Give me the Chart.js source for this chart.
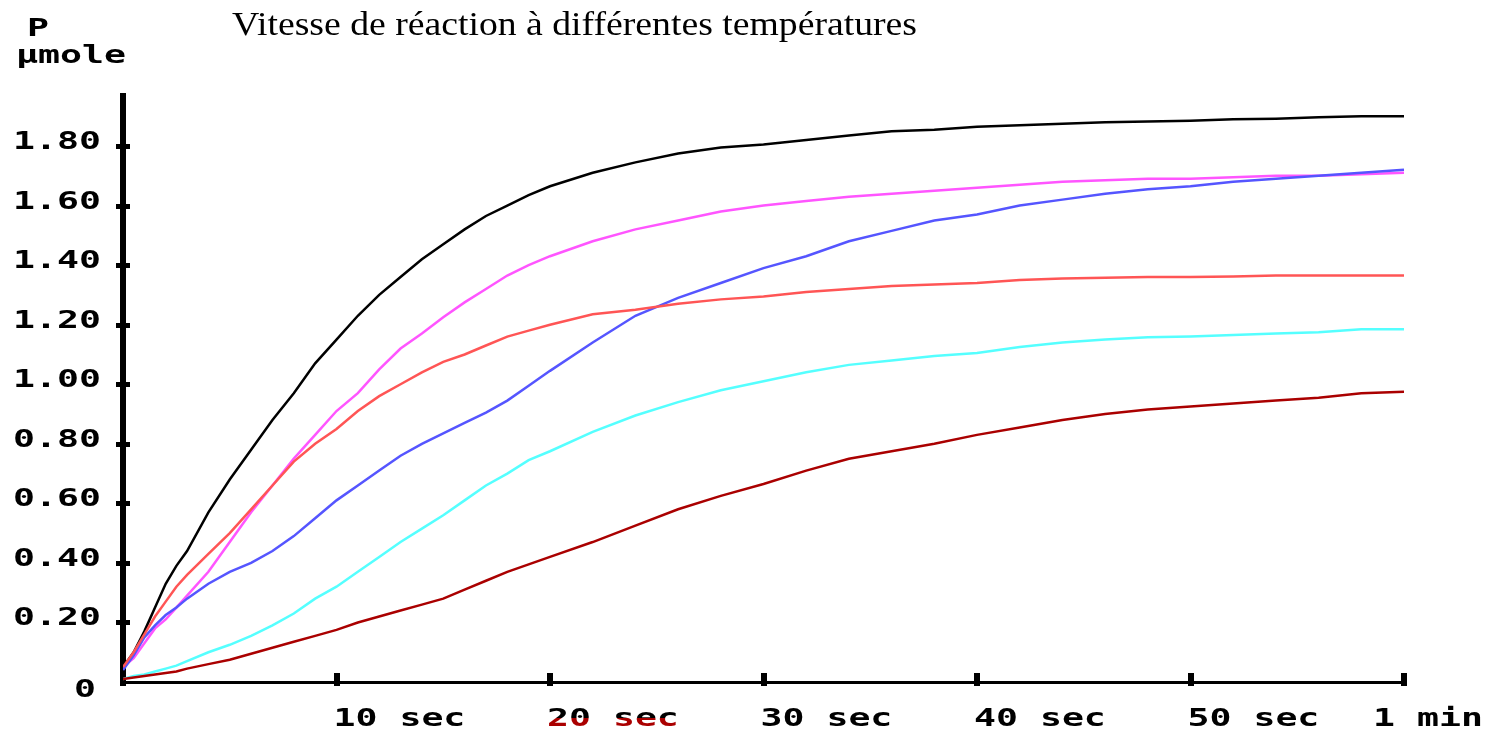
<!DOCTYPE html>
<html lang="fr">
<head>
<meta charset="UTF-8">
<title>Vitesse de réaction à différentes températures</title>
<style>
  html, body { margin: 0; padding: 0; background: #fff; }
  #wrap { width: 1489px; height: 730px; }
</style>
</head>
<body>
<div id="wrap"><canvas id="chart" width="1489" height="730"></canvas></div>
<script src="https://cdn.jsdelivr.net/npm/chart.js@4.4.0/dist/chart.umd.min.js"></script>
<script>
// --- données (temps en s, P en µmole) ---
const titre = "Vitesse de réaction à différentes températures";
const uniteY = ["P", "µmole"];

const temps = [0, 0.5, 1, 1.5, 2, 2.5, 3, 4, 5, 6, 7, 8, 9, 10, 11, 12, 13, 14, 15, 16, 17, 18, 19, 20,
  22, 24, 26, 28, 30, 32, 34, 36, 38, 40, 42, 44, 46, 48, 50, 52, 54, 56, 58, 60];

const courbeNoire = [0.05, 0.10, 0.17, 0.25, 0.33, 0.39, 0.44, 0.57, 0.68, 0.78, 0.88, 0.97, 1.07, 1.15, 1.23, 1.30,
  1.36, 1.42, 1.47, 1.52, 1.565, 1.60, 1.635, 1.665, 1.71, 1.745, 1.775, 1.795, 1.805, 1.82, 1.835, 1.85,
  1.855, 1.865, 1.87, 1.875, 1.88, 1.882, 1.885, 1.89, 1.892, 1.897, 1.90, 1.90];
const courbeMagenta = [0.05, 0.08, 0.13, 0.18, 0.21, 0.25, 0.29, 0.37, 0.47, 0.57, 0.66, 0.75, 0.83, 0.91, 0.97, 1.05,
  1.12, 1.17, 1.225, 1.275, 1.32, 1.365, 1.40, 1.43, 1.48, 1.52, 1.55, 1.58, 1.60, 1.615, 1.63, 1.64,
  1.65, 1.66, 1.67, 1.68, 1.685, 1.69, 1.69, 1.695, 1.70, 1.70, 1.705, 1.71];
const courbeBleue = [0.04, 0.09, 0.15, 0.19, 0.225, 0.25, 0.28, 0.33, 0.37, 0.40, 0.44, 0.49, 0.55, 0.61, 0.66, 0.71,
  0.76, 0.80, 0.835, 0.87, 0.905, 0.945, 0.995, 1.045, 1.14, 1.23, 1.29, 1.34, 1.39, 1.43, 1.48, 1.515,
  1.55, 1.57, 1.60, 1.62, 1.64, 1.655, 1.665, 1.68, 1.69, 1.70, 1.71, 1.72];
const courbeRouge = [0.05, 0.10, 0.16, 0.22, 0.27, 0.32, 0.36, 0.43, 0.50, 0.58, 0.66, 0.74, 0.80, 0.85, 0.91, 0.96,
  1.00, 1.04, 1.075, 1.10, 1.13, 1.16, 1.18, 1.20, 1.235, 1.25, 1.27, 1.285, 1.295, 1.31, 1.32, 1.33,
  1.335, 1.34, 1.35, 1.355, 1.358, 1.36, 1.36, 1.362, 1.365, 1.365, 1.365, 1.365];
const courbeCyan = [0.01, 0.02, 0.025, 0.035, 0.045, 0.055, 0.07, 0.10, 0.125, 0.155, 0.19, 0.23, 0.28, 0.32, 0.37, 0.42,
  0.47, 0.515, 0.56, 0.61, 0.66, 0.70, 0.745, 0.775, 0.84, 0.895, 0.94, 0.98, 1.01, 1.04, 1.065, 1.08,
  1.095, 1.105, 1.125, 1.14, 1.15, 1.158, 1.16, 1.165, 1.17, 1.175, 1.185, 1.185];
const courbeBordeaux = [0.01, 0.015, 0.02, 0.025, 0.03, 0.035, 0.045, 0.06, 0.075, 0.095, 0.115, 0.135, 0.155, 0.175, 0.20, 0.22,
  0.24, 0.26, 0.28, 0.31, 0.34, 0.37, 0.395, 0.42, 0.47, 0.525, 0.58, 0.625, 0.665, 0.71, 0.75, 0.775,
  0.80, 0.83, 0.855, 0.88, 0.90, 0.915, 0.925, 0.935, 0.945, 0.955, 0.97, 0.975];

const yTicks = [0, 0.2, 0.4, 0.6, 0.8, 1.0, 1.2, 1.4, 1.6, 1.8];
const yTickLabels = ["0", "0.20", "0.40", "0.60", "0.80", "1.00", "1.20", "1.40", "1.60", "1.80"];
const xTicks = [10, 20, 30, 40, 50, 60];
const xTickLabels = ["10 sec", "20 sec", "30 sec", "40 sec", "50 sec", "1 min"];

// --- construction des séries ---
function points(valeurs) {
  return temps.map((t, i) => ({ x: t, y: valeurs[i] }));
}

function serie(valeurs, couleur) {
  return {
    data: points(valeurs),
    borderColor: couleur,
    borderWidth: 2.5,
    pointRadius: 0,
    tension: 0,
    fill: false
  };
}

const PIX_FONT = "bold 25px 'DejaVu Sans Mono'";
const PIX_SX = 1.46;

// texte "pixel" étiré horizontalement
function pixText(ctx, str, x, y, align, fill) {
  ctx.save();
  ctx.font = PIX_FONT;
  const w = ctx.measureText(str).width * PIX_SX;
  const left = align === "right" ? x - w : x;
  ctx.translate(left, y);
  ctx.scale(PIX_SX, 1);
  ctx.textAlign = "left";
  ctx.textBaseline = "alphabetic";
  ctx.fillStyle = fill || "#000";
  ctx.fillText(str, 0, 0);
  ctx.restore();
}

const textes = {
  id: "textes",
  afterDraw(chart) {
    const ctx = chart.ctx;
    const xs = chart.scales.x;
    const ys = chart.scales.y;
    const area = chart.chartArea;

    // graduations (traits épais qui croisent les axes)
    ctx.save();
    ctx.fillStyle = "#000";
    yTicks.forEach(v => {
      if (v === 0) return;
      const py = Math.round(ys.getPixelForValue(v));
      ctx.fillRect(area.left - 7, py - 2, 14, 5);
    });
    xTicks.forEach(v => {
      const px = Math.round(xs.getPixelForValue(v));
      ctx.fillRect(px - 3, area.bottom - 9, 6, 13);
    });
    ctx.fillRect(area.left - 3, area.bottom, 6, 4);
    ctx.restore();

    // étiquettes de l'axe Y
    yTicks.forEach((v, i) => {
      const py = ys.getPixelForValue(v);
      if (v === 0) {
        pixText(ctx, yTickLabels[i], area.left - 27, py + 15, "right");
      } else {
        pixText(ctx, yTickLabels[i], area.left - 22, py + 3, "right");
      }
    });

    // étiquettes de l'axe X
    xTicks.forEach((v, i) => {
      const px = xs.getPixelForValue(v);
      const lab = xTickLabels[i];
      let fill = "#000";
      if (v === 20) {
        // coordonnées relatives à la ligne de base (repère translaté)
        const g = ctx.createLinearGradient(0, -18, 0, 0);
        g.addColorStop(0, "#000");
        g.addColorStop(0.55, "#000");
        g.addColorStop(0.56, "#aa0000");
        g.addColorStop(1, "#aa0000");
        fill = g;
      }
      if (v === 60) {
        pixText(ctx, lab, px - 31, 726, "left", fill);
      } else {
        pixText(ctx, lab, px - 3, 726, "left", fill);
      }
    });

    // unité de l'axe Y
    pixText(ctx, uniteY[0], 27, 36, "left");
    pixText(ctx, uniteY[1], 16, 63, "left");

    // titre
    ctx.save();
    ctx.font = "33px 'Liberation Serif'";
    const w = ctx.measureText(titre).width;
    const sx = 685 / w;
    ctx.translate(232, 35);
    ctx.scale(sx, 1);
    ctx.fillStyle = "#000";
    ctx.textBaseline = "alphabetic";
    ctx.fillText(titre, 0, 0);
    ctx.restore();
  }
};

const ctx = document.getElementById("chart").getContext("2d");
new Chart(ctx, {
  type: "line",
  data: {
    datasets: [
      serie(courbeBordeaux, "#aa0000"),
      serie(courbeCyan, "#55ffff"),
      serie(courbeRouge, "#ff5555"),
      serie(courbeBleue, "#5555ff"),
      serie(courbeMagenta, "#ff55ff"),
      serie(courbeNoire, "#000000")
    ]
  },
  options: {
    responsive: false,
    animation: false,
    devicePixelRatio: 1,
    layout: { padding: { left: 123, right: 85, top: 96, bottom: 48 } },
    plugins: {
      legend: { display: false },
      title: { display: false },
      tooltip: { enabled: false }
    },
    scales: {
      x: {
        type: "linear",
        min: 0,
        max: 60,
        grid: { display: false },
        ticks: { display: false },
        border: { display: true, color: "#000", width: 3 },
        afterFit: s => { s.height = 0; }
      },
      y: {
        type: "linear",
        min: 0,
        max: 1.968,
        grid: { display: false },
        ticks: { display: false },
        border: { display: true, color: "#000", width: 6 },
        afterFit: s => { s.width = 0; }
      }
    }
  },
  plugins: [textes]
});
</script>
</body>
</html>
